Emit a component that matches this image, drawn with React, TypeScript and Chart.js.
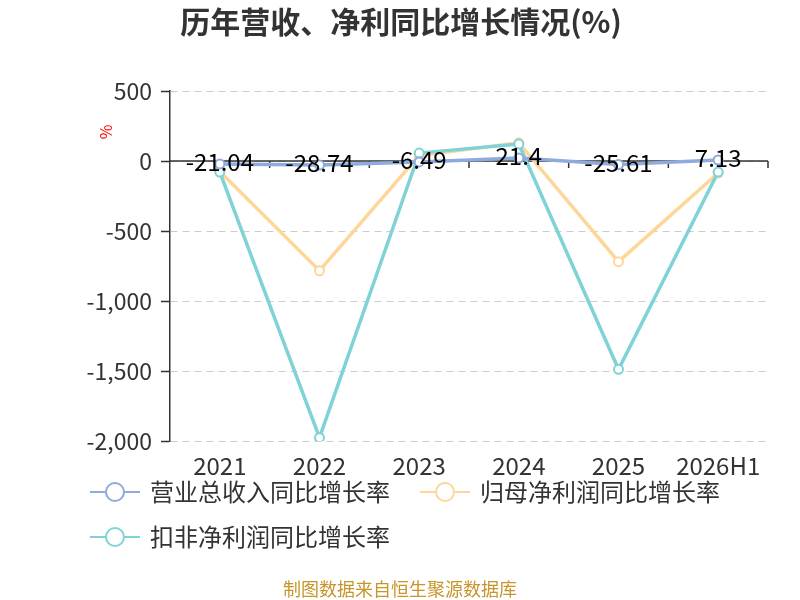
import React, { useEffect, useRef } from "react";
import { Chart, registerables } from "chart.js";

Chart.register(...registerables);

const categories = ["2021", "2022", "2023", "2024", "2025", "2026H1"];
const revenueGrowth = [-21.04, -28.74, -6.49, 21.4, -25.61, 7.13];
const netProfitGrowth = [-75, -784, 40, 130, -719, -86];
const deductedProfitGrowth = [-79, -1976, 57, 121, -1488, -79];
const seriesNames = ["营业总收入同比增长率", "归母净利润同比增长率", "扣非净利润同比增长率"];
const seriesColors = ["rgb(143,170,220)", "rgb(255,214,153)", "rgb(127,211,215)"];
const yTicks = [500, 0, -500, -1000, -1500, -2000];

const FONT = "'Noto Sans CJK SC', 'Noto Sans', sans-serif";

const decorPlugin = {
  id: "decor",
  beforeDatasetsDraw(chart: any) {
    const { ctx, chartArea, scales } = chart;
    const x = scales.x;
    const y = scales.y;
    const y0 = y.getPixelForValue(0);
    ctx.save();
    ctx.strokeStyle = "#333";
    ctx.lineWidth = 1.5;
    ctx.beginPath();
    ctx.moveTo(chartArea.left, y0);
    ctx.lineTo(chartArea.right, y0);
    const n = categories.length;
    for (let i = 0; i < n; i++) {
      const bx = i < n - 1 ? (x.getPixelForValue(i) + x.getPixelForValue(i + 1)) / 2 : chartArea.right;
      ctx.moveTo(bx, y0);
      ctx.lineTo(bx, y0 + 7);
    }
    ctx.stroke();
    ctx.restore();
  },
  afterDatasetsDraw(chart: any) {
    const { ctx } = chart;
    const meta = chart.getDatasetMeta(0);
    ctx.save();
    ctx.font = `24px ${FONT}`;
    ctx.fillStyle = "#000";
    ctx.textAlign = "center";
    ctx.textBaseline = "middle";
    meta.data.forEach((pt: any, i: number) => {
      ctx.fillText(String(revenueGrowth[i]), pt.x, pt.y - 2);
    });
    ctx.restore();
  },
  afterDraw(chart: any) {
    const { ctx } = chart;
    ctx.save();
    // title
    ctx.font = `bold 30px ${FONT}`;
    ctx.fillStyle = "#333";
    ctx.textAlign = "center";
    ctx.textBaseline = "middle";
    ctx.fillText("历年营收、净利同比增长情况(%)", 401, 22);
    // unit label
    ctx.save();
    ctx.translate(106, 132);
    ctx.rotate(-Math.PI / 2);
    ctx.font = `16px ${FONT}`;
    ctx.fillStyle = "#ff0000";
    ctx.fillText("%", 0, 0);
    ctx.restore();
    // legend
    const items = [
      { x: 90, y: 492 },
      { x: 420, y: 492 },
      { x: 90, y: 537 },
    ];
    items.forEach((it, i) => {
      ctx.strokeStyle = seriesColors[i];
      ctx.lineWidth = 2;
      ctx.beginPath();
      ctx.moveTo(it.x, it.y);
      ctx.lineTo(it.x + 50, it.y);
      ctx.stroke();
      ctx.beginPath();
      ctx.arc(it.x + 25, it.y, 9, 0, Math.PI * 2);
      ctx.fillStyle = "#fff";
      ctx.fill();
      ctx.stroke();
      ctx.font = `24px ${FONT}`;
      ctx.fillStyle = "#333";
      ctx.textAlign = "left";
      ctx.textBaseline = "middle";
      ctx.fillText(seriesNames[i], it.x + 60, it.y);
    });
    // source
    ctx.font = `18px ${FONT}`;
    ctx.fillStyle = "#c8952a";
    ctx.textAlign = "center";
    ctx.textBaseline = "middle";
    ctx.fillText("制图数据来自恒生聚源数据库", 400, 589);
    ctx.restore();
  },
};

export default function App() {
  const ref = useRef<HTMLCanvasElement>(null);
  useEffect(() => {
    if (!ref.current) return;
    const mk = (i: number, data: number[], order: number) => ({
      label: seriesNames[i],
      data,
      borderColor: seriesColors[i],
      backgroundColor: seriesColors[i],
      borderWidth: 3.5,
      pointRadius: 4.5,
      pointHoverRadius: 4.5,
      pointBorderWidth: 2,
      pointBackgroundColor: "#fff",
      pointBorderColor: seriesColors[i],
      tension: 0,
      order,
    });
    const chart = new Chart(ref.current, {
      type: "line",
      data: {
        labels: categories,
        datasets: [
          mk(0, revenueGrowth, 0),
          mk(1, netProfitGrowth, 2),
          mk(2, deductedProfitGrowth, 1),
        ],
      },
      options: {
        responsive: false,
        animation: false,
        devicePixelRatio: 1,
        layout: { padding: { top: 91, right: 32, bottom: 0, left: 0 } },
        plugins: { legend: { display: false }, title: { display: false }, tooltip: { enabled: false } },
        scales: {
          x: {
            type: "category",
            offset: true,
            grid: { display: false },
            border: { display: false },
            ticks: { font: { size: 24, family: FONT }, color: "#333", padding: 2, maxRotation: 0, autoSkip: false },
            afterFit: (s: any) => { s.height = 600 - 441; },
          },
          y: {
            min: -2000,
            max: 500,
            afterBuildTicks: (s: any) => { s.ticks = yTicks.slice().reverse().map((v) => ({ value: v })); },
            ticks: { font: { size: 23, family: FONT }, color: "#333", padding: 9 },
            grid: { color: "#ccc", lineWidth: 1, tickLength: 9, tickColor: "#333", tickWidth: 1.5 },
            border: { display: true, color: "#333", width: 1.5, dash: [7, 5] },
            afterFit: (s: any) => { s.width = 170; },
          },
        },
      },
      plugins: [decorPlugin],
    } as any);
    return () => chart.destroy();
  }, []);
  return (
    <div style={{ position: "fixed", left: 0, top: 0, width: 800, height: 600, background: "#fff" }}>
      <canvas ref={ref} width={800} height={600} style={{ width: 800, height: 600 }} />
    </div>
  );
}
